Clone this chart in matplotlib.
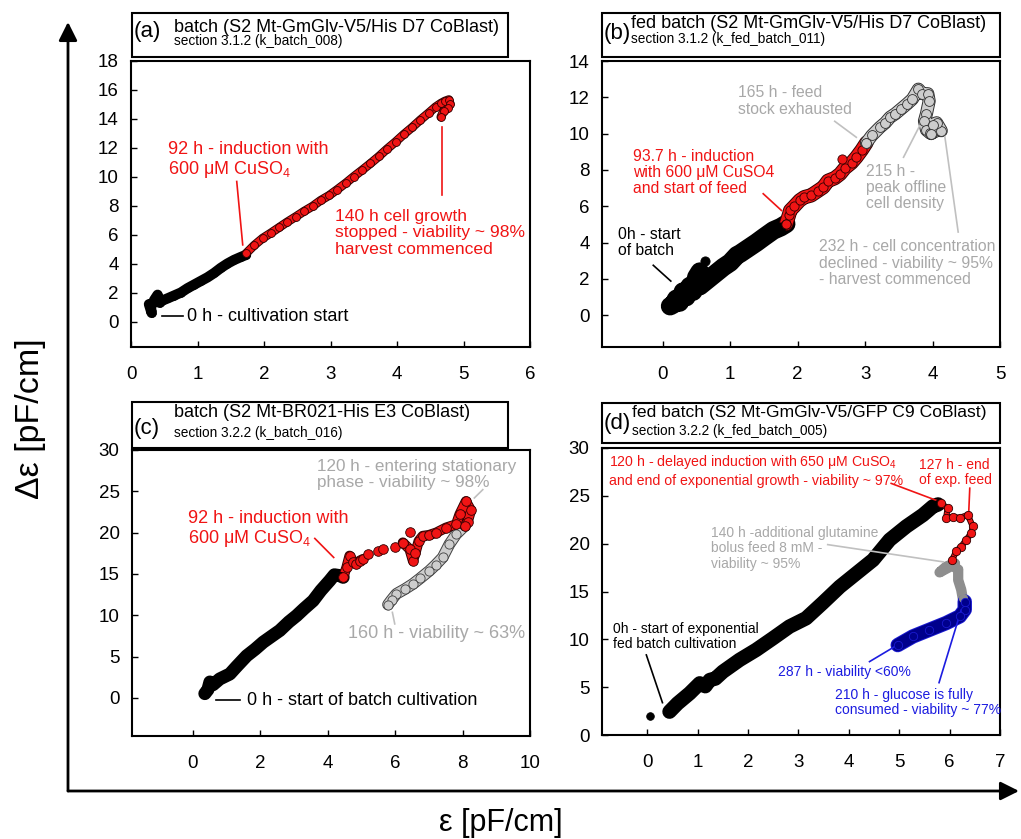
import matplotlib
matplotlib.use("Agg")
import matplotlib.pyplot as plt
import matplotlib.patheffects as pe
from matplotlib.patches import Rectangle, FancyArrowPatch

plt.rcParams['font.family'] = ['Liberation Sans', 'DejaVu Sans']
plt.rcParams['mathtext.fontset'] = 'custom'
plt.rcParams['mathtext.rm'] = 'Liberation Sans'
plt.rcParams['mathtext.it'] = 'Liberation Sans:italic'

RED = '#f01414'
GREY = '#a8a8a8'
BLUE = '#1c1ce0'

# ---- (a) batch k_batch_008
a_black_x = [0.27, 0.31, 0.30, 0.35, 0.40, 0.43, 0.47, 0.55, 0.65, 0.75, 0.85, 0.95, 1.05, 1.15,
             1.25, 1.35, 1.45, 1.55, 1.65, 1.73]
a_black_y = [1.2, 0.6, 1.0, 1.5, 1.85, 1.3, 1.45, 1.6, 1.8, 2.0, 2.3, 2.55, 2.8, 3.05,
             3.35, 3.7, 4.0, 4.25, 4.45, 4.6]
a_red_x = [1.73, 1.85, 1.98, 2.10, 2.23, 2.35, 2.48, 2.60, 2.73, 2.85, 2.98, 3.10, 3.23, 3.35,
           3.48, 3.60, 3.73, 3.85, 3.98, 4.10, 4.23, 4.35, 4.48, 4.58, 4.66, 4.72, 4.78, 4.80,
           4.76, 4.70, 4.66]
a_red_y = [4.7, 5.25, 5.75, 6.1, 6.5, 6.87, 7.24, 7.6, 7.95, 8.35, 8.7, 9.1, 9.55, 10.0,
           10.46, 10.9, 11.4, 11.9, 12.4, 12.9, 13.4, 13.9, 14.4, 14.8, 15.05, 15.2, 15.3, 15.0,
           14.7, 14.5, 14.1]

# ---- (b) fed batch k_fed_batch_011
b_black_x = [0.11, 0.16, 0.20, 0.25, 0.30, 0.35, 0.40, 0.45, 0.50, 0.55, 0.55, 0.65, 0.75, 0.85,
             0.90, 1.00, 1.10, 1.15, 1.25, 1.39, 1.50, 1.64, 1.75, 1.83]
b_black_y = [0.5, 0.6, 0.9, 0.7, 1.3, 1.0, 1.6, 1.3, 2.1, 2.4, 1.6, 1.9, 2.2, 2.5,
             2.65, 2.9, 3.3, 3.4, 3.65, 4.0, 4.3, 4.67, 4.85, 5.03]
b_black_out_x = [0.63]
b_black_out_y = [3.0]
b_red_x = [1.83, 1.87, 1.89, 1.95, 2.03, 2.10, 2.20, 2.30, 2.38, 2.45, 2.55, 2.63, 2.70,
           2.80, 2.87, 2.95, 3.02]
b_red_y = [5.03, 5.5, 5.77, 6.0, 6.32, 6.5, 6.6, 6.85, 7.05, 7.4, 7.55, 7.78, 8.1,
           8.4, 8.7, 9.1, 9.5]
b_red_out_x = [2.66]
b_red_out_y = [8.6]
b_grey_x = [3.02, 3.10, 3.22, 3.30, 3.37, 3.45, 3.53, 3.62, 3.70, 3.79, 3.85, 3.93, 3.95, 3.91,
            3.88, 3.91, 3.96, 4.01, 4.08, 4.13, 4.06, 4.00, 3.98]
b_grey_y = [9.5, 9.9, 10.35, 10.6, 10.9, 11.1, 11.35, 11.63, 11.9, 12.45, 12.2, 12.2, 11.8, 11.1,
            10.7, 10.2, 10.05, 10.07, 10.2, 10.16, 10.6, 10.5, 10.0]

# ---- (c) batch k_batch_016
c_black_x = [0.36, 0.45, 0.51, 0.60, 0.80, 1.10, 1.30, 1.60, 1.85, 2.09, 2.35, 2.58, 2.85, 3.08,
             3.30, 3.57, 3.80, 4.06, 4.20, 4.36, 4.46]
c_black_y = [0.53, 1.0, 1.93, 1.6, 2.3, 2.9, 3.8, 5.1, 5.9, 6.75, 7.5, 8.16, 9.2, 9.96,
             10.8, 11.77, 13.0, 14.2, 14.9, 14.8, 14.6]
c_red_x = [4.46, 4.56, 4.65, 4.75, 4.85, 4.95, 5.05]
c_red_y = [14.6, 15.8, 17.2, 16.5, 16.2, 16.6, 16.8]
c_red2_x = [5.20, 5.49, 5.64, 5.99, 6.23]
c_red2_y = [17.4, 17.8, 18.0, 18.3, 18.8]
c_red3_x = [6.23, 6.43, 6.53, 6.60, 6.70, 6.82, 7.00, 7.22, 7.51, 7.81, 7.91, 8.10, 8.25, 8.15,
            8.06]
c_red3_y = [18.8, 18.0, 16.6, 17.5, 19.0, 19.6, 19.7, 20.0, 20.6, 21.0, 22.2, 23.8, 22.7, 21.3,
            20.8]
c_red_out_x = [6.43]
c_red_out_y = [20.1]
c_grey_x = [8.06, 7.81, 7.61, 7.41, 7.20, 7.02, 6.75, 6.53, 6.30, 6.04, 5.90, 5.79]
c_grey_y = [20.8, 19.8, 18.6, 17.0, 16.1, 15.4, 14.5, 13.8, 13.2, 12.6, 11.9, 11.3]

# ---- (d) fed batch k_fed_batch_005
d_first_x = [0.05]
d_first_y = [1.99]
d_black_x = [0.44, 0.60, 0.84, 1.04, 1.15, 1.24, 1.35, 1.50, 1.83, 2.16, 2.49, 2.82, 3.15, 3.48,
             3.82, 4.15, 4.48, 4.81, 5.14, 5.47, 5.67, 5.77]
d_black_y = [2.44, 3.3, 4.36, 5.4, 5.1, 5.75, 5.9, 6.62, 7.85, 8.9, 10.1, 11.33, 12.2, 13.8,
             15.5, 16.9, 18.3, 20.4, 21.8, 23.0, 23.9, 24.1]
d_red_x = [5.83, 5.96, 5.93, 6.06, 6.20, 6.36, 6.46, 6.43, 6.33, 6.23, 6.13, 6.05]
d_red_y = [24.2, 23.7, 22.7, 22.8, 22.7, 23.0, 21.8, 21.1, 20.4, 19.7, 19.2, 18.3]
d_grey_x = [6.10, 5.93, 5.80, 6.05, 6.17, 6.17, 6.23, 6.26]
d_grey_y = [17.96, 17.6, 17.0, 17.7, 17.3, 16.2, 15.2, 14.3]
d_blue_x = [6.30, 6.30, 6.20, 5.93, 5.60, 5.27, 4.97]
d_blue_y = [13.95, 13.1, 12.4, 11.7, 11.0, 10.3, 9.4]

W, H = 1021, 839
fig = plt.figure(figsize=(W / 100, H / 100), dpi=100)


def rect(l, t, r, b):
    return [l / W, 1 - b / H, (r - l) / W, (b - t) / H]


def trail(ax, xs, ys, fill, edge, band=6, s=34, line=True):
    if line:
        ax.plot(xs, ys, color=fill, lw=band, solid_capstyle='round', solid_joinstyle='round',
                path_effects=[pe.Stroke(linewidth=band + 1.4, foreground=edge), pe.Normal()])
    ax.scatter(xs, ys, s=s, c=fill, edgecolors=edge, linewidths=0.6, zorder=3)


def note(ax, xs, ys, color):
    ax.plot(xs, ys, color=color, lw=1.2)


def panel(rc, xlim, ylim, xticks, yticks):
    ax = fig.add_axes(rect(*rc))
    ax.set_xlim(*xlim)
    ax.set_ylim(*ylim)
    ax.set_xticks(xticks)
    ax.set_yticks(yticks)
    ax.tick_params(direction='in', length=4, width=1, labelsize=13.5)
    ax.tick_params(axis='x', pad=14)
    ax.tick_params(axis='y', pad=9)
    for sp in ax.spines.values():
        sp.set_linewidth(1.5)
    return ax


def title_box(l, t, r, b, tag, main, sub, tag_y, main_x, main_y, sub_y, size=13):
    fig.add_artist(Rectangle((l / W, 1 - b / H), (r - l) / W, (b - t) / H,
                             transform=fig.transFigure, fill=False, lw=1.5, color='k'))
    fig.text((l + 2) / W, 1 - tag_y / H, tag, fontsize=16, va='center', ha='left')
    fig.text(main_x / W, 1 - main_y / H, main, fontsize=size, va='center', ha='left')
    fig.text(main_x / W, 1 - sub_y / H, sub, fontsize=9.8, va='center', ha='left')


# (a)
ax = panel((131, 60.5, 530, 347), (0, 6), (-1.75, 18), range(0, 7), range(0, 19, 2))
trail(ax, a_black_x, a_black_y, 'k', 'k', band=6, s=30)
trail(ax, a_red_x, a_red_y, RED, '#300000', band=5, s=32)
note(ax, [0.46, 0.78], [0.39, 0.39], 'k')
ax.text(0.835, 0.35, '0 h - cultivation start', fontsize=13, va='center')
note(ax, [1.59, 1.68], [9.66, 5.29], RED)
ax.text(0.555, 11.84, '92 h - induction with', fontsize=13, va='center', color=RED)
ax.text(0.555, 10.46, r'600 μM CuSO$_4$', fontsize=13, va='center', color=RED)
note(ax, [4.68, 4.68], [13.45, 8.74], RED)
ax.text(3.07, 6.12, '140 h cell growth\nstopped - viability ~ 98%\nharvest commenced',
        fontsize=12.6, va='center', color=RED, linespacing=1.15)
title_box(132, 13, 508, 57, '(a)', 'batch (S2 Mt-GmGlv-V5/His D7 CoBlast)',
          'section 3.1.2 (k_batch_008)', 32, 174, 27, 41)

# (b)
ax = panel((602, 61, 1000, 347), (-0.9, 5), (-1.75, 14), range(0, 6), range(0, 15, 2))
trail(ax, b_black_x, b_black_y, 'k', 'k', band=12, s=44)
trail(ax, b_black_out_x, b_black_out_y, 'k', 'k', s=44, line=False)
trail(ax, b_red_x, b_red_y, RED, '#300000', band=9, s=44)
trail(ax, b_red_out_x, b_red_out_y, RED, '#300000', s=44, line=False)
trail(ax, b_grey_x, b_grey_y, '#cdcdcd', '#303030', band=8, s=50)
note(ax, [2.55, 2.87], [10.68, 9.8], '#c0c0c0')
ax.text(1.11, 11.8, '165 h - feed\nstock exhausted', fontsize=11.3, va='center',
        color=GREY, linespacing=1.1)
note(ax, [3.57, 3.81], [8.7, 10.44], '#c0c0c0')
ax.text(3.01, 7.05, '215 h -\npeak offline\ncell density', fontsize=11.3, va='center',
        color=GREY, linespacing=1.1)
note(ax, [4.38, 4.18], [4.58, 9.9], '#c0c0c0')
ax.text(2.31, 2.87, '232 h - cell concentration\ndeclined - viability ~ 95%\n- harvest commenced',
        fontsize=11.3, va='center', color=GREY, linespacing=1.1)
note(ax, [1.49, 1.76], [6.69, 5.77], RED)
ax.text(-0.44, 7.87, '93.7 h - induction\nwith 600 μM CuSO4\nand start of feed', fontsize=11.3,
        va='center', color=RED, linespacing=1.1)
note(ax, [-0.14, 0.12], [2.75, 1.88], 'k')
ax.text(-0.67, 4.0, '0h - start\nof batch', fontsize=11.3, va='center', linespacing=1.1)
title_box(602, 13, 1000, 57, '(b)', 'fed batch (S2 Mt-GmGlv-V5/His D7 CoBlast)',
          'section 3.1.2 (k_fed_batch_011)', 34, 631, 24, 39)

# (c)
ax = panel((132, 450, 530, 736), (-1.8, 10), (-4.6, 30), range(0, 11, 2), range(0, 31, 5))
trail(ax, c_black_x, c_black_y, 'k', 'k', band=8, s=36)
trail(ax, c_grey_x, c_grey_y, '#cdcdcd', '#404040', band=7, s=44)
trail(ax, c_red_x, c_red_y, RED, '#300000', band=6, s=48)
trail(ax, c_red2_x, c_red2_y, RED, '#300000', s=48, line=False)
trail(ax, c_red3_x, c_red3_y, RED, '#300000', band=6, s=48)
trail(ax, c_red_out_x, c_red_out_y, RED, '#300000', s=48, line=False)
note(ax, [0.69, 1.4], [-0.28, -0.28], 'k')
ax.text(1.6, -0.28, '0 h - start of batch cultivation', fontsize=13, va='center')
note(ax, [3.62, 4.18], [19.3, 17.0], RED)
ax.text(-0.13, 21.7, '92 h - induction with', fontsize=13, va='center', color=RED)
ax.text(-0.13, 19.3, r'600 μM CuSO$_4$', fontsize=13, va='center', color=RED)
note(ax, [8.6, 8.35], [25.2, 24.2], '#c0c0c0')
ax.text(3.68, 27.0, '120 h - entering stationary\nphase - viability ~ 98%', fontsize=12.3,
        va='center', color=GREY, linespacing=1.05)
note(ax, [5.99, 5.92], [8.96, 10.36], '#c0c0c0')
ax.text(4.6, 7.76, '160 h - viability ~ 63%', fontsize=13, va='center', color=GREY)
title_box(132, 402, 508, 448, '(c)', 'batch (S2 Mt-BR021-His E3 CoBlast)',
          'section 3.2.2 (k_batch_016)', 428, 174, 412, 433)

# (d)
ax = panel((602, 448, 1000, 735), (-0.9, 7), (0, 30), range(0, 8), range(0, 31, 5))
trail(ax, d_first_x, d_first_y, 'k', 'k', s=30, line=False)
trail(ax, d_black_x, d_black_y, 'k', 'k', band=9, s=36)
trail(ax, d_grey_x, d_grey_y, '#8e8e8e', '#8e8e8e', band=6, s=36)
trail(ax, d_blue_x, d_blue_y, '#00008c', '#1a1ad0', band=9, s=36)
trail(ax, d_red_x, d_red_y, RED, '#300000', band=3, s=36)
note(ax, [4.84, 5.8], [26.3, 24.4], RED)
ax.text(-0.76, 28.5, r'120 h - delayed induction with 650 μM CuSO$_4$', fontsize=10.2,
        va='center', color=RED)
ax.text(-0.76, 26.6, 'and end of exponential growth - viability ~ 97%', fontsize=10.2,
        va='center', color=RED)
note(ax, [6.4, 6.38], [25.8, 23.36], RED)
ax.text(5.4, 27.45, '127 h - end\nof exp. feed', fontsize=10, va='center', color=RED,
        linespacing=1.1)
note(ax, [3.58, 5.87], [19.9, 18.1], '#c0c0c0')
ax.text(1.27, 19.5, '140 h -additional glutamine\nbolus feed 8 mM -\nviability ~ 95%',
        fontsize=10, va='center', color=GREY, linespacing=1.1)
note(ax, [-0.02, 0.3], [8.37, 3.38], 'k')
ax.text(-0.69, 10.33, '0h - start of exponential\nfed batch cultivation', fontsize=10,
        va='center', linespacing=1.1)
note(ax, [4.41, 4.91], [7.67, 9.24], BLUE)
ax.text(2.59, 6.62, '287 h - viability <60%', fontsize=10, va='center', color=BLUE)
note(ax, [5.79, 6.23], [5.47, 13.07], BLUE)
ax.text(3.72, 3.36, '210 h - glucose is fully\nconsumed - viability ~ 77%', fontsize=10,
        va='center', color=BLUE, linespacing=1.1)
title_box(602, 403, 1000, 443, '(d)', 'fed batch (S2 Mt-GmGlv-V5/GFP C9 CoBlast)',
          'section 3.2.2 (k_fed_batch_005)', 423, 632, 413, 431, size=12.6)

# big axis arrows
for end in [(68, 22), (1019, 791)]:
    fig.add_artist(FancyArrowPatch((68 / W, 1 - 791 / H), (end[0] / W, 1 - end[1] / H),
                                   transform=fig.transFigure, arrowstyle='-|>',
                                   mutation_scale=28, lw=2, color='k', shrinkA=0, shrinkB=0))
fig.text(30 / W, 1 - 419 / H, 'Δε [pF/cm]', fontsize=24.5, rotation=90, va='center', ha='center')
fig.text(501 / W, 1 - 823 / H, 'ε [pF/cm]', fontsize=22, va='center', ha='center')

fig.savefig('out.png', dpi=100)
